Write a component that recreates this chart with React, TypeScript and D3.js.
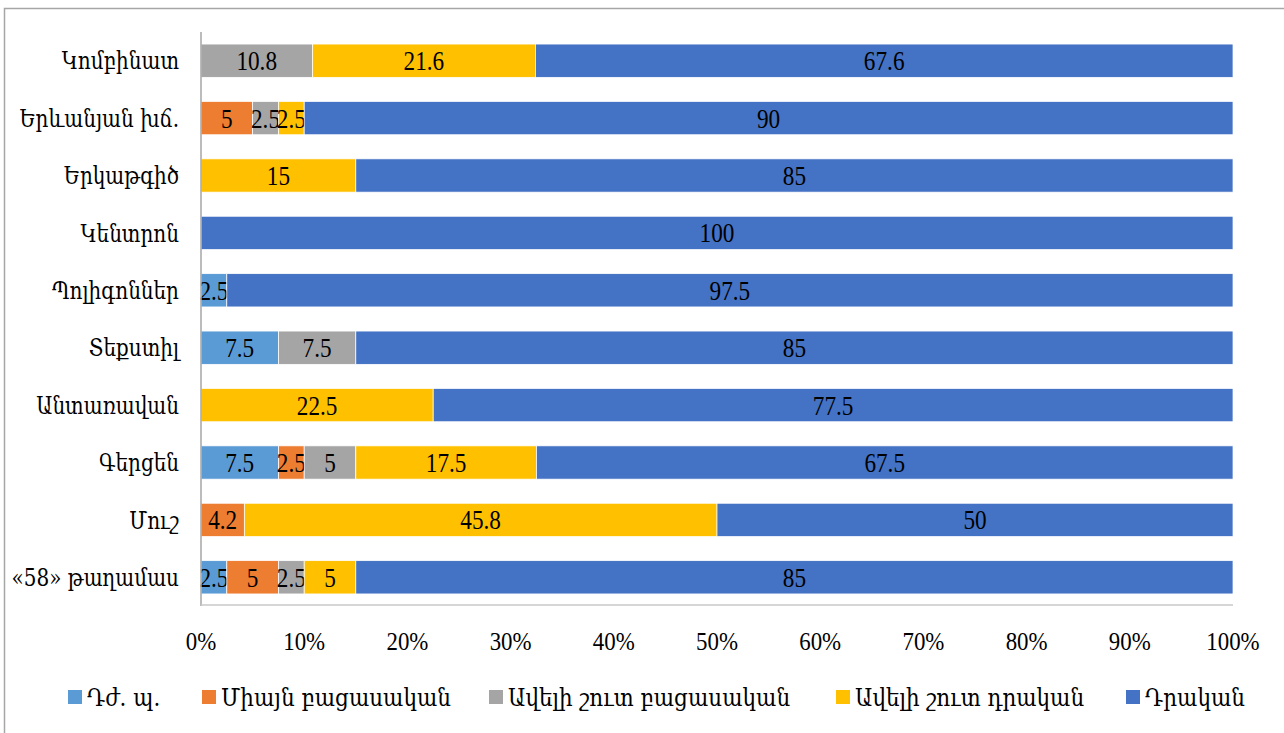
import React, { useEffect, useRef } from 'react';
import * as d3 from 'd3';

// categories top to bottom
const categories = [
  'Կոմբինատ',
  'Երևանյան խճ.',
  'Երկաթգիծ',
  'Կենտրոն',
  'Պոլիգոններ',
  'Տեքստիլ',
  'Անտառավան',
  'Գերցեն',
  'Մուշ',
  '«58» թաղամաս',
];

const seriesNames = [
  'Դժ. պ.',
  'Միայն բացասական',
  'Ավելի շուտ բացասական',
  'Ավելի շուտ դրական',
  'Դրական',
];

const dzhPa = [0, 0, 0, 0, 2.5, 7.5, 0, 7.5, 0, 2.5];
const onlyNeg = [0, 5, 0, 0, 0, 0, 0, 2.5, 4.2, 5];
const ratherNeg = [10.8, 2.5, 0, 0, 0, 7.5, 0, 5, 0, 2.5];
const ratherPos = [21.6, 2.5, 15, 0, 0, 0, 22.5, 17.5, 45.8, 5];
const positive = [67.6, 90, 85, 100, 97.5, 85, 77.5, 67.5, 50, 85];

const tickValues = [0, 10, 20, 30, 40, 50, 60, 70, 80, 90, 100];
const colors = ['#5B9BD5', '#ED7D31', '#A5A5A5', '#FFC000', '#4472C4'];
const legendX = [68, 202, 489, 836, 1126];

const FONT = '"Liberation Serif", "DejaVu Serif", serif';
const ARM = '"DejaVu Serif", "Liberation Serif", serif';

const App = () => {
  const ref = useRef(null);

  useEffect(() => {
    const svg = d3.select(ref.current);
    svg.selectAll('*').remove();

    const rows = categories.map((c, i) => ({
      cat: c,
      s0: dzhPa[i],
      s1: onlyNeg[i],
      s2: ratherNeg[i],
      s3: ratherPos[i],
      s4: positive[i],
    }));
    const keys = ['s0', 's1', 's2', 's3', 's4'];
    const stacked = d3.stack().keys(keys)(rows);

    const x = d3.scaleLinear().domain([0, 100]).range([201, 1233]);
    const y = d3.scaleBand().domain(categories).range([32, 606]).paddingInner(0.42).paddingOuter(0.21);

    // condensed text, like the source picture
    const label = (g, tx, ty, txt, font, size, sx, anchor) =>
      g.append('text')
        .attr('transform', `translate(${tx},${ty}) scale(${sx},1)`)
        .attr('dy', '0.35em')
        .attr('text-anchor', anchor)
        .attr('fill', '#000')
        .style('font-family', font)
        .style('font-size', size + 'px')
        .text(txt);

    // outer chart border (partly outside the view)
    svg.append('rect')
      .attr('x', 4.5).attr('y', 8.5)
      .attr('width', 1400).attr('height', 800)
      .attr('fill', 'none').attr('stroke', '#a6a6a6').attr('stroke-width', 1.5);

    stacked.forEach((layer, li) => {
      const g = svg.append('g').attr('fill', colors[li]);
      g.selectAll('rect')
        .data(layer)
        .enter()
        .append('rect')
        .attr('x', d => x(d[0]))
        .attr('y', d => y(d.data.cat))
        .attr('width', d => x(d[1]) - x(d[0]))
        .attr('height', y.bandwidth())
        .attr('stroke', '#fff')
        .attr('stroke-width', 0.75);

      layer.filter(d => d[1] - d[0] > 0).forEach(d => {
        label(g, (x(d[0]) + x(d[1])) / 2, y(d.data.cat) + y.bandwidth() / 2,
          String(+(d[1] - d[0]).toFixed(1)), FONT, 27, 0.86, 'middle');
      });
    });

    // axis lines
    svg.append('line')
      .attr('x1', x(0)).attr('x2', x(0))
      .attr('y1', 32).attr('y2', 606)
      .attr('stroke', '#a6a6a6').attr('stroke-width', 1.5);
    svg.append('line')
      .attr('x1', x(0)).attr('x2', x(100))
      .attr('y1', 605).attr('y2', 605)
      .attr('stroke', '#c8c8c8').attr('stroke-width', 1.5);

    // category labels
    const cg = svg.append('g');
    categories.forEach(c => {
      label(cg, 179, y(c) + y.bandwidth() / 2, c, ARM, 25, 0.8, 'end');
    });

    // x tick labels
    const tg = svg.append('g');
    tickValues.forEach(t => {
      label(tg, x(t), 641, t + '%', FONT, 26, 0.88, 'middle');
    });

    // legend
    const lg = svg.append('g');
    seriesNames.forEach((name, i) => {
      lg.append('rect')
        .attr('x', legendX[i]).attr('y', 690)
        .attr('width', 14).attr('height', 14)
        .attr('fill', colors[i]);
      label(lg, legendX[i] + 19, 697, name, ARM, 25, 0.86, 'start');
    });
  }, []);

  return (
    <svg
      ref={ref}
      width={1284}
      height={733}
      style={{ position: 'absolute', left: 0, top: 0, background: '#fff' }}
    />
  );
};

export default App;
